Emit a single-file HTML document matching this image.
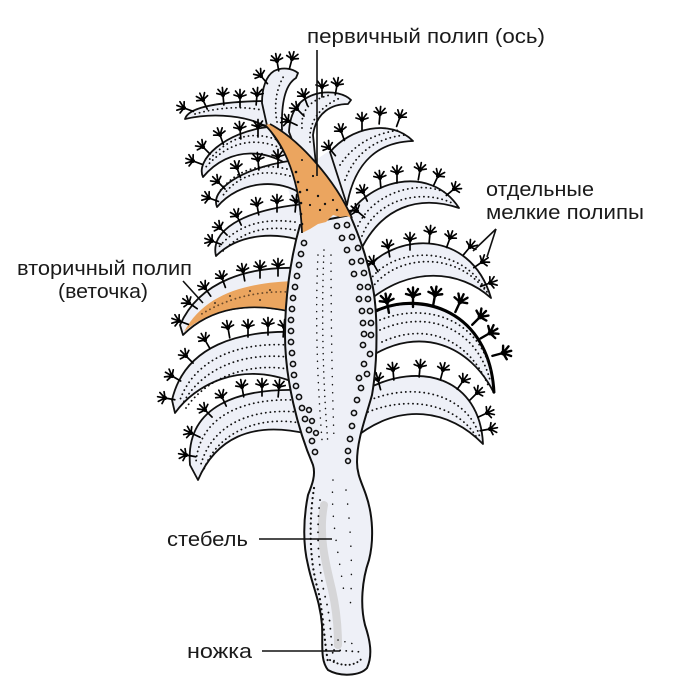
<!DOCTYPE html>
<html><head><meta charset="utf-8">
<style>
html,body{margin:0;padding:0;background:#fff;}
svg{display:block;}
text{font-family:"Liberation Sans","DejaVu Sans",sans-serif;font-size:20px;fill:#1a1a1a;}
</style></head>
<body>
<svg width="700" height="693" viewBox="0 0 700 693" xmlns="http://www.w3.org/2000/svg">
<defs>
<g id="p"><path d="M0,10 L0,0 M0,0 L-6,-2 M0,0 L-4.5,-6 M0,0 L0,-7.5 M0,0 L4.5,-6 M0,0 L6,-2" stroke="#000" stroke-width="1.7" fill="none" stroke-linecap="round"/><circle r="2" fill="#000"/></g>
<g id="pb"><path d="M0,11 L0,0 M0,0 L-7,-2 M0,0 L-5,-7 M0,0 L0,-8.5 M0,0 L5,-7 M0,0 L7,-2" stroke="#000" stroke-width="2.4" fill="none" stroke-linecap="round"/><circle r="2.4" fill="#000"/></g>
</defs>
<rect width="700" height="693" fill="#fff"/>

<!-- filler behind upper region -->
<path d="M270,122 L313,128 L316,160 L333,148 L347,205 L352,218 L300,232 Z" fill="#eef0f7"/>

<g fill="#eef0f7" stroke="#111" stroke-width="1.8" stroke-linejoin="round">
<!-- left leaves -->
<path d="M268,128 C250,116 215,112 185,119 C188,108 215,102 262,101 Z"/>
<path d="M262,103 C262,88 266,76 274,71 C282,67 292,68 298,73 L296,78 C286,84 281,100 282,130 L268,130 Z"/>
<path d="M289,132 C290,110 300,97 320,93 C333,91 345,94 351,100 L348,104 C332,104 316,112 313,135 L316,165 L300,160 Z"/>
<path d="M298,172 C270,148 230,145 203,177 C195,160 225,132 268,127 Z"/>
<path d="M303,195 C280,178 240,180 217,207 C210,190 240,168 295,160 Z"/>
<path d="M305,242 C280,232 240,232 216,256 C210,232 240,210 305,204 Z"/>
<path d="M300,268 C250,266 200,280 180,325 L183,335 C210,308 250,300 300,314 Z"/>
<path d="M296,332 C240,330 185,345 172,400 L175,413 C195,385 240,360 296,383 Z"/>
<path d="M300,390 C240,388 185,405 190,465 L198,480 C215,440 250,420 308,434 Z"/>
<!-- right leaves -->
<path d="M330,152 C350,128 390,118 413,141 C380,142 355,160 347,205 Z"/>
<path d="M345,222 C365,180 430,163 459,208 C420,195 380,205 358,256 Z"/>
<path d="M360,276 C390,232 470,226 491,298 C460,270 410,265 366,303 Z"/>
<path d="M368,313 C420,290 490,310 494,393 C470,345 420,325 370,357 Z"/>
<path d="M365,390 C420,360 480,378 483,444 C450,410 400,400 352,440 Z"/>
</g>
<path d="M376,311 C420,290 490,310 494,393" fill="none" stroke="#000" stroke-width="3"/>

<!-- orange secondary polyp -->
<path d="M298,281 C250,282 205,292 184,332 C210,308 250,302 298,313 Z" fill="#eba55f"/>
<path d="M183,335 C210,308 250,300 300,314" fill="none" stroke="#111" stroke-width="1.5"/>

<!-- leaf dots -->
<g fill="none" stroke="#111" stroke-width="1.8" stroke-dasharray="0.1 4.5" stroke-linecap="round">
<path d="M195,114 Q230,104 262,110"/>
<path d="M277,122 Q272,95 285,74"/>
<path d="M302,128 Q300,102 330,95"/>
<path d="M310,142 Q308,112 340,98"/>
<path d="M285,150 Q240,128 205,168"/>
<path d="M280,141 Q240,124 209,160"/>
<path d="M290,176 Q245,164 221,198"/>
<path d="M287,169 Q245,159 219,192"/>
<path d="M295,222 Q245,215 218,248"/>
<path d="M295,230 Q250,222 222,252"/>
<path d="M290,292 Q240,290 200,315" stroke="#6b4a2a"/>
<path d="M288,345 C240,342 195,358 180,400"/>
<path d="M288,357 C240,352 200,370 182,405"/>
<path d="M288,369 C245,362 205,380 186,408"/>
<path d="M295,400 C245,398 200,415 196,462"/>
<path d="M298,412 C250,408 210,425 200,468"/>
<path d="M300,423 C255,415 215,435 203,472"/>
<path d="M345,180 Q360,140 405,135"/>
<path d="M340,165 Q360,135 400,130"/>
<path d="M362,236 C375,200 420,188 452,203"/>
<path d="M358,226 C372,193 420,178 448,194"/>
<path d="M372,288 C395,255 455,250 485,290"/>
<path d="M370,280 C392,248 460,242 487,292"/>
<path d="M380,330 C425,310 475,325 490,380"/>
<path d="M382,342 C425,322 468,338 488,385"/>
<path d="M380,320 C425,302 478,318 491,372"/>
<path d="M370,400 C420,380 470,398 480,438"/>
<path d="M368,412 C415,393 462,408 478,440"/>
</g>

<!-- polyps -->
<g>
<use href="#p" transform="translate(184,108) rotate(-70)"/>
<use href="#p" transform="translate(203,100) rotate(-25)"/>
<use href="#p" transform="translate(223,95) rotate(-5)"/>
<use href="#p" transform="translate(240,97) rotate(0)"/>
<use href="#p" transform="translate(257,95) rotate(5)"/>
<use href="#p" transform="translate(261,76) rotate(-40)"/>
<use href="#p" transform="translate(277,61) rotate(-10)"/>
<use href="#p" transform="translate(292,59) rotate(15)"/>
<use href="#p" transform="translate(288,121) rotate(-65)"/>
<use href="#p" transform="translate(297,109) rotate(-45)"/>
<use href="#p" transform="translate(304,96) rotate(-20)"/>
<use href="#p" transform="translate(322,87) rotate(0)"/>
<use href="#p" transform="translate(337,85) rotate(10)"/>
<use href="#p" transform="translate(193,161) rotate(-70)"/>
<use href="#p" transform="translate(203,147) rotate(-45)"/>
<use href="#p" transform="translate(220,135) rotate(-20)"/>
<use href="#p" transform="translate(240,129) rotate(-5)"/>
<use href="#p" transform="translate(258,127) rotate(0)"/>
<use href="#p" transform="translate(209,198) rotate(-70)"/>
<use href="#p" transform="translate(218,182) rotate(-45)"/>
<use href="#p" transform="translate(237,168) rotate(-20)"/>
<use href="#p" transform="translate(258,160) rotate(-5)"/>
<use href="#p" transform="translate(278,157) rotate(0)"/>
<use href="#p" transform="translate(212,241) rotate(-70)"/>
<use href="#p" transform="translate(220,228) rotate(-45)"/>
<use href="#p" transform="translate(237,216) rotate(-25)"/>
<use href="#p" transform="translate(257,205) rotate(-10)"/>
<use href="#p" transform="translate(277,202) rotate(0)"/>
<use href="#p" transform="translate(296,202) rotate(5)"/>
<use href="#p" transform="translate(179,321) rotate(-70)"/>
<use href="#p" transform="translate(189,303) rotate(-55)"/>
<use href="#p" transform="translate(205,288) rotate(-35)"/>
<use href="#p" transform="translate(222,278) rotate(-20)"/>
<use href="#p" transform="translate(243,271) rotate(-10)"/>
<use href="#p" transform="translate(260,268) rotate(0)"/>
<use href="#p" transform="translate(278,266) rotate(0)"/>
<use href="#p" transform="translate(165,398) rotate(-80)"/>
<use href="#p" transform="translate(172,376) rotate(-60)"/>
<use href="#p" transform="translate(186,356) rotate(-45)"/>
<use href="#p" transform="translate(205,340) rotate(-30)"/>
<use href="#p" transform="translate(228,328) rotate(-10)"/>
<use href="#p" transform="translate(248,327) rotate(0)"/>
<use href="#p" transform="translate(268,325) rotate(0)"/>
<use href="#p" transform="translate(284,327) rotate(5)"/>
<use href="#p" transform="translate(186,455) rotate(-80)"/>
<use href="#p" transform="translate(191,433) rotate(-65)"/>
<use href="#p" transform="translate(205,410) rotate(-45)"/>
<use href="#p" transform="translate(222,397) rotate(-25)"/>
<use href="#p" transform="translate(242,387) rotate(-10)"/>
<use href="#p" transform="translate(262,386) rotate(0)"/>
<use href="#p" transform="translate(279,387) rotate(5)"/>
<use href="#p" transform="translate(329,148) rotate(-40)"/>
<use href="#p" transform="translate(341,131) rotate(-20)"/>
<use href="#p" transform="translate(362,120) rotate(0)"/>
<use href="#p" transform="translate(380,114) rotate(5)"/>
<use href="#p" transform="translate(400,117) rotate(20)"/>
<use href="#p" transform="translate(357,211) rotate(-50)"/>
<use href="#p" transform="translate(363,192) rotate(-25)"/>
<use href="#p" transform="translate(380,178) rotate(-5)"/>
<use href="#p" transform="translate(397,173) rotate(0)"/>
<use href="#p" transform="translate(420,170) rotate(10)"/>
<use href="#p" transform="translate(438,176) rotate(25)"/>
<use href="#p" transform="translate(454,189) rotate(50)"/>
<use href="#p" transform="translate(373,263) rotate(-30)"/>
<use href="#p" transform="translate(388,247) rotate(-10)"/>
<use href="#p" transform="translate(410,240) rotate(0)"/>
<use href="#p" transform="translate(430,233) rotate(5)"/>
<use href="#p" transform="translate(450,238) rotate(20)"/>
<use href="#p" transform="translate(470,247) rotate(40)"/>
<use href="#p" transform="translate(482,262) rotate(55)"/>
<use href="#p" transform="translate(490,283) rotate(70)"/>
<use href="#pb" transform="translate(387,302) rotate(-10)"/>
<use href="#pb" transform="translate(413,296) rotate(0)"/>
<use href="#pb" transform="translate(435,295) rotate(10)"/>
<use href="#pb" transform="translate(460,302) rotate(25)"/>
<use href="#pb" transform="translate(480,317) rotate(45)"/>
<use href="#pb" transform="translate(490,333) rotate(60)"/>
<use href="#pb" transform="translate(503,353) rotate(75)"/>
<use href="#p" transform="translate(378,380) rotate(-15)"/>
<use href="#p" transform="translate(393,370) rotate(-5)"/>
<use href="#p" transform="translate(420,367) rotate(5)"/>
<use href="#p" transform="translate(443,370) rotate(15)"/>
<use href="#p" transform="translate(463,381) rotate(35)"/>
<use href="#p" transform="translate(477,393) rotate(45)"/>
<use href="#p" transform="translate(487,413) rotate(65)"/>
<use href="#p" transform="translate(490,429) rotate(80)"/>
</g>

<!-- main body + stalk -->
<path d="M300,225 C290,260 285,300 285,335 C285,380 298,430 313,465 C316,475 312,485 308,495 C303,520 303,545 308,565 C312,585 320,600 322,625 C323,645 320,660 328,670 C340,677 360,676 367,668 C373,655 370,640 365,625 C360,605 362,580 369,560 C374,540 373,515 366,495 C362,483 357,475 357,462 C357,440 365,420 372,395 C378,360 378,310 372,283 C367,258 360,238 350,215 Z" fill="#eef0f7" stroke="#111" stroke-width="2"/>

<!-- stalk shading -->
<path d="M324,505 C318,535 326,565 332,590 C337,612 338,630 338,645" fill="none" stroke="#d6d6d8" stroke-width="8" stroke-linecap="round"/>

<!-- body dots -->
<g fill="none" stroke="#111" stroke-linecap="round">
<path d="M318,255 Q314,340 322,440" stroke-width="1.5" stroke-dasharray="0.1 7"/>
<path d="M324,250 Q320,345 328,445" stroke-width="1.5" stroke-dasharray="0.1 6"/>
<path d="M331,255 Q331,350 334,440" stroke-width="1.5" stroke-dasharray="0.1 8"/>
<path d="M314,488 C309,520 309,560 318,590 C323,610 324,640 328,662" stroke-width="2.2" stroke-dasharray="0.1 5"/>
<path d="M320,500 C316,530 318,570 326,600 C332,625 330,645 335,665" stroke-width="1.8" stroke-dasharray="0.1 8"/>
<path d="M333,480 C330,520 340,560 345,600" stroke-width="1.5" stroke-dasharray="0.1 12"/>
<path d="M346,490 C351,530 353,570 350,610" stroke-width="1.5" stroke-dasharray="0.1 14"/>
<path d="M330,660 C340,666 355,668 363,657" stroke-width="2" stroke-dasharray="0.1 4"/>
<path d="M334,650 L362,652" stroke-width="1.8" stroke-dasharray="0.1 6"/>
<path d="M338,640 L358,645" stroke-width="1.5" stroke-dasharray="0.1 7"/>
</g>

<!-- ring pores -->
<g fill="none" stroke="#111" stroke-width="1.6">
<circle cx="304" cy="243" r="2.6"/><circle cx="301" cy="254" r="2.6"/><circle cx="299" cy="265" r="2.6"/><circle cx="297" cy="276" r="2.6"/><circle cx="295" cy="287" r="2.6"/><circle cx="293" cy="298" r="2.6"/><circle cx="292" cy="309" r="2.6"/><circle cx="291" cy="320" r="2.6"/><circle cx="291" cy="331" r="2.6"/><circle cx="291" cy="342" r="2.6"/><circle cx="292" cy="353" r="2.6"/><circle cx="293" cy="364" r="2.6"/><circle cx="294" cy="375" r="2.6"/><circle cx="296" cy="386" r="2.6"/><circle cx="299" cy="397" r="2.6"/><circle cx="302" cy="408" r="2.6"/><circle cx="305" cy="419" r="2.6"/><circle cx="309" cy="430" r="2.6"/><circle cx="312" cy="441" r="2.6"/><circle cx="315" cy="452" r="2.6"/>
<circle cx="309" cy="410" r="2.4"/><circle cx="312" cy="421" r="2.4"/><circle cx="316" cy="433" r="2.4"/>
<circle cx="337" cy="226" r="2.6"/><circle cx="347" cy="225" r="2.6"/><circle cx="342" cy="238" r="2.6"/><circle cx="352" cy="237" r="2.6"/><circle cx="347" cy="250" r="2.6"/><circle cx="358" cy="248" r="2.6"/><circle cx="352" cy="262" r="2.6"/><circle cx="361" cy="261" r="2.6"/><circle cx="354" cy="274" r="2.6"/><circle cx="364" cy="273" r="2.6"/><circle cx="360" cy="287" r="2.6"/><circle cx="368" cy="287" r="2.6"/><circle cx="359" cy="299" r="2.6"/><circle cx="368" cy="299" r="2.6"/><circle cx="362" cy="311" r="2.6"/><circle cx="370" cy="311" r="2.6"/><circle cx="363" cy="323" r="2.6"/><circle cx="371" cy="323" r="2.6"/><circle cx="364" cy="334" r="2.6"/><circle cx="371" cy="335" r="2.6"/><circle cx="363" cy="345" r="2.6"/><circle cx="370" cy="354" r="2.6"/><circle cx="364" cy="364" r="2.6"/><circle cx="367" cy="374" r="2.6"/><circle cx="359" cy="378" r="2.6"/><circle cx="361" cy="388" r="2.6"/><circle cx="357" cy="400" r="2.6"/><circle cx="354" cy="413" r="2.6"/><circle cx="352" cy="426" r="2.6"/><circle cx="350" cy="439" r="2.6"/><circle cx="348" cy="451" r="2.6"/><circle cx="348" cy="461" r="2.4"/>
</g>

<!-- primary polyp (axis) orange -->
<path d="M265,125 C285,145 300,180 302,233 L310,229 L318,224 L326,222 L333,215 L340,217 L347,216 L352,218 C335,180 300,140 270,124 Z" fill="#eba55f"/>
<path d="M265,125 C285,145 300,180 302,233" fill="none" stroke="#111" stroke-width="1.8"/>
<path d="M352,218 C335,180 300,140 270,124" fill="none" stroke="#111" stroke-width="1.8"/>
<g fill="#111">
<circle cx="296" cy="172" r="1.3"/><circle cx="298" cy="182" r="1.3"/><circle cx="300" cy="192" r="1.3"/><circle cx="301" cy="203" r="1.3"/><circle cx="301" cy="214" r="1.3"/><circle cx="302" cy="224" r="1.3"/>
<circle cx="307" cy="190" r="1.2"/><circle cx="313" cy="176" r="1.1"/><circle cx="318" cy="196" r="1.2"/><circle cx="325" cy="204" r="1.2"/><circle cx="333" cy="200" r="1.1"/><circle cx="320" cy="210" r="1.1"/><circle cx="310" cy="205" r="1.1"/><circle cx="337" cy="210" r="1.2"/><circle cx="302" cy="160" r="1"/>
<circle cx="230" cy="296" r="0.9"/><circle cx="250" cy="291" r="0.9"/><circle cx="270" cy="290" r="0.9"/><circle cx="215" cy="303" r="0.9"/><circle cx="260" cy="300" r="0.9"/>
</g>

<!-- leader lines -->
<g stroke="#111" stroke-width="1.6" fill="none">
<line x1="317" y1="50" x2="317" y2="176"/>
<line x1="496" y1="229" x2="473" y2="251"/>
<line x1="496" y1="229" x2="487" y2="257"/>
<line x1="183" y1="281" x2="203" y2="303"/>
<line x1="259" y1="539" x2="332" y2="539"/>
<line x1="262" y1="651" x2="340" y2="651"/>
</g>

<!-- labels -->
<text x="307" y="43" textLength="238" lengthAdjust="spacingAndGlyphs">первичный полип (ось)</text>
<text x="486" y="196" textLength="108" lengthAdjust="spacingAndGlyphs">отдельные</text>
<text x="486" y="219" textLength="158" lengthAdjust="spacingAndGlyphs">мелкие полипы</text>
<text x="17" y="275" textLength="175" lengthAdjust="spacingAndGlyphs">вторичный полип</text>
<text x="58" y="298" textLength="90" lengthAdjust="spacingAndGlyphs">(веточка)</text>
<text x="167" y="546" textLength="81" lengthAdjust="spacingAndGlyphs">стебель</text>
<text x="187" y="658" textLength="65" lengthAdjust="spacingAndGlyphs">ножка</text>
</svg>
</body></html>
